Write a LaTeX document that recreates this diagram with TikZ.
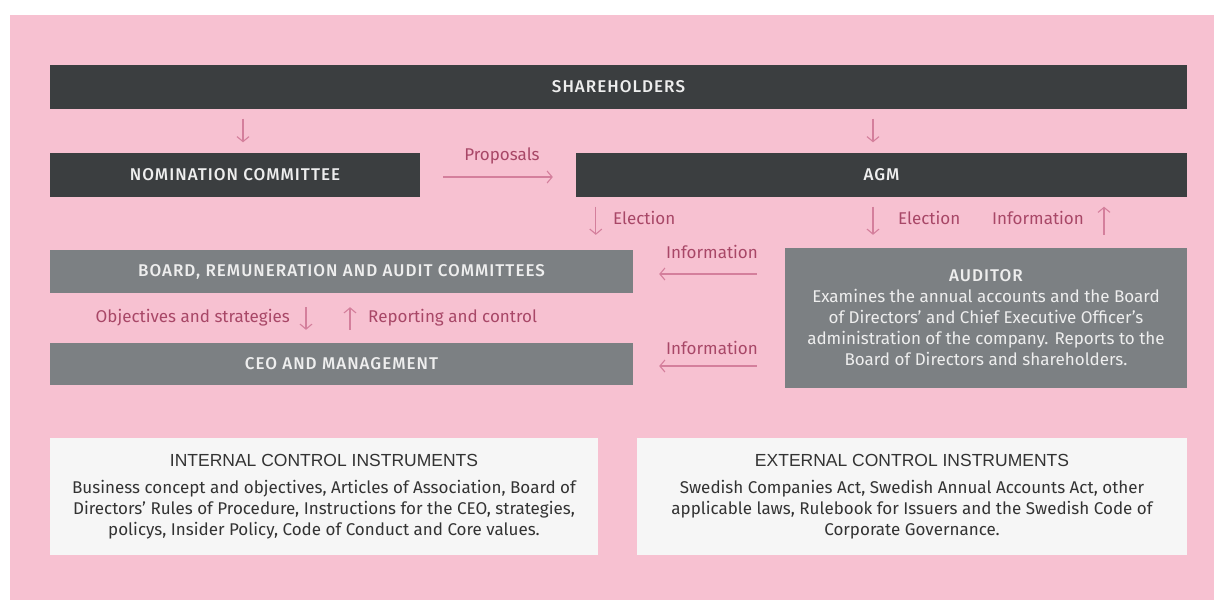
\documentclass[tikz,border=0pt]{standalone}
\usepackage{fontspec}
\setmainfont{Fira Sans}
\newfontfamily\capsfont{Fira Sans Medium}[LetterSpace=6]
\newfontfamily\headfont{Liberation Sans}
\usetikzlibrary{arrows.meta,calc}

\definecolor{pinkbg}{HTML}{F7C1D1}
\definecolor{darkbar}{HTML}{3B3E40}
\definecolor{graybar}{HTML}{7C8083}
\definecolor{whitebox}{HTML}{F6F6F6}
\definecolor{bartext}{HTML}{EEEEEE}
\definecolor{arrowcol}{HTML}{D47F9C}
\definecolor{labelcol}{HTML}{A84767}

\begin{document}
\begin{tikzpicture}[x=1pt, y=-1pt,
                    font=\fontsize{17}{21}\selectfont,
                    ]
    \tikzstyle{bar}=[fill=darkbar, text=bartext, inner sep=0pt, minimum height=44pt, font=\capsfont\fontsize{17}{21}\selectfont]
    \tikzstyle{greybar}=[bar, fill=graybar]
    \tikzstyle{instr}=[fill=whitebox, text=black!80, inner sep=0pt, align=center, minimum height=117pt]
    \tikzstyle{lbl}=[text=labelcol, inner sep=0pt]
    \tikzstyle{flow}=[draw=arrowcol, line width=1.1pt, -{Straight Barb[length=5pt,width=12pt]}]

    \fill[white] (0,0) rectangle (1214,600);
    \fill[pinkbg] (10,15) rectangle (1214,600);
    \useasboundingbox (0,0) rectangle (1214,600);

    \node[bar, minimum width=1137pt] (share) at (618.5,86.5) {SHAREHOLDERS};
    \node[bar, minimum width=370pt] (nom) at (235,174.5) {NOMINATION COMMITTEE};
    \node[bar, minimum width=611pt] (agm) at (881.5,174.5) {AGM};
    \node[greybar, minimum width=583pt, minimum height=43pt] (board) at (341.5,271.5) {BOARD, REMUNERATION AND AUDIT COMMITTEES};
    \node[greybar, minimum width=583pt, minimum height=42pt] (ceo) at (341.5,364) {CEO AND MANAGEMENT};
    \node[greybar, minimum width=402pt, minimum height=140pt, align=center] (auditor) at (986,318)
        {AUDITOR\\
         {\normalfont\fontsize{17}{21}\selectfont Examines the annual accounts and the Board}\\
         {\normalfont\fontsize{17}{21}\selectfont of Directors’ and Chief Executive Officer’s}\\
         {\normalfont\fontsize{17}{21}\selectfont administration of the company. Reports to the}\\
         {\normalfont\fontsize{17}{21}\selectfont Board of Directors and shareholders.}};

    \node[instr, minimum width=548pt] (internal) at (324,496.5)
        {{\headfont\fontsize{17.5}{21}\selectfont INTERNAL CONTROL INSTRUMENTS}\\[6pt]
         Business concept and objectives, Articles of Association, Board of\\
         Directors’ Rules of Procedure, Instructions for the CEO, strategies,\\
         policys, Insider Policy, Code of Conduct and Core values.};
    \node[instr, minimum width=550pt] (external) at (912,496.5)
        {{\headfont\fontsize{17.5}{21}\selectfont EXTERNAL CONTROL INSTRUMENTS}\\[6pt]
         Swedish Companies Act, Swedish Annual Accounts Act, other\\
         applicable laws, Rulebook for Issuers and the Swedish Code of\\
         Corporate Governance.};

    % arrows
    \draw[flow, shorten <=10pt, shorten >=10pt] ($(nom.north |- share.south)+(8,0)$) -- ($(nom.north)+(8,0)$);
    \draw[flow, shorten <=10pt, shorten >=10pt] ($(agm.north |- share.south)+(-8.5,0)$) -- ($(agm.north)+(-8.5,0)$);
    \draw[flow, shorten <=23pt, shorten >=23pt] ($(nom.east)+(0,2.5)$) -- ($(agm.west)+(0,2.5)$);
    \draw[flow, shorten <=10pt, shorten >=15pt] ($(agm.south west)+(20,0)$) -- ($(agm.south west |- board.north)+(20,0)$);
    \draw[flow, shorten <=10pt, shorten >=13pt] ($(agm.south)+(-8.5,0)$) -- ($(agm.south |- auditor.north)+(-8.5,0)$);
    \draw[flow, shorten <=13pt, shorten >=10pt] ($(auditor.north)+(118,0)$) -- ($(auditor.north |- agm.south)+(118,0)$);
    \draw[flow, shorten <=28pt, shorten >=26pt] ($(auditor.west |- board.east)+(0,2.5)$) -- ($(board.east)+(0,2.5)$);
    \draw[flow, shorten <=28pt, shorten >=26pt] ($(auditor.west |- ceo.east)+(0,2)$) -- ($(ceo.east)+(0,2)$);
    \draw[flow, shorten <=14pt, shorten >=13pt] ($(board.south)+(-35.5,0)$) -- ($(board.south |- ceo.north)+(-35.5,0)$);
    \draw[flow, shorten <=13pt, shorten >=14pt] ($(ceo.north)+(8.5,0)$) -- ($(ceo.north |- board.south)+(8.5,0)$);

    % labels
    \node[lbl] (proposals) at (502,156) {Proposals};
    \node[lbl, anchor=west] (elect1) at (613,218) {Election};
    \node[lbl, anchor=west] (elect2) at (898,218) {Election};
    \node[lbl, anchor=east] (info1) at (1084,218) {Information};
    \node[lbl] (info2) at (712,252) {Information};
    \node[lbl] (info3) at (712,348) {Information};
    \node[lbl, anchor=east] (objectives) at (290,318) {Objectives and strategies};
    \node[lbl, anchor=west] (reporting) at (368,318) {Reporting and control};
\end{tikzpicture}
\end{document}
